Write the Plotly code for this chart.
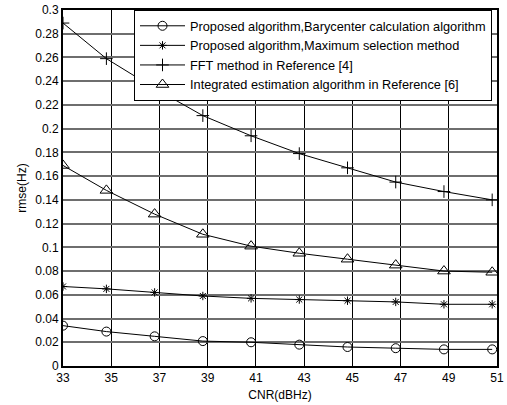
import plotly.graph_objects as go

cnr = [33, 34.8, 36.8, 38.8, 40.8, 42.8, 44.8, 46.8, 48.8, 50.8]
bary = [0.034, 0.029, 0.025, 0.021, 0.020, 0.018, 0.016, 0.015, 0.014, 0.014]
maxsel = [0.067, 0.065, 0.062, 0.059, 0.057, 0.056, 0.055, 0.054, 0.052, 0.052]
fft = [0.289, 0.259, 0.234, 0.211, 0.194, 0.179, 0.167, 0.155, 0.147, 0.140]
integ = [0.169, 0.148, 0.128, 0.111, 0.101, 0.095, 0.090, 0.085, 0.080, 0.079]

names = [
    "Proposed algorithm,Barycenter calculation algorithm",
    "Proposed algorithm,Maximum selection method",
    "FFT method in Reference [4]",
    "Integrated estimation algorithm in Reference [6]",
]
xticks = [33, 35, 37, 39, 41, 43, 45, 47, 49, 51]
yticks = [0, 0.02, 0.04, 0.06, 0.08, 0.1, 0.12, 0.14, 0.16, 0.18, 0.2, 0.22, 0.24, 0.26, 0.28, 0.3]
ytick_text = ["0", "0.02", "0.04", "0.06", "0.08", "0.1", "0.12", "0.14", "0.16", "0.18", "0.2", "0.22", "0.24", "0.26", "0.28", "0.3"]

series = [
    (bary, "circle-open", 9),
    (maxsel, "asterisk-open", 7),
    (fft, "cross-thin-open", 9),
    (integ, "triangle-up-open", 11),
]

fig = go.Figure()
for (vals, sym, sz), nm in zip(series, names):
    fig.add_trace(go.Scatter(
        x=cnr, y=vals, name=nm, mode="lines+markers",
        line=dict(color="black", width=1),
        marker=dict(symbol=sym, size=sz, color="black", line=dict(color="black", width=1)),
    ))

font = "Liberation Sans, Arial, sans-serif"
fig.update_layout(
    width=507, height=405,
    margin=dict(l=63, r=10, t=10, b=39, autoexpand=False),
    paper_bgcolor="white", plot_bgcolor="white",
    font=dict(family=font, size=12, color="black"),
    showlegend=True,
    legend=dict(
        x=0.1636, y=1, xanchor="left", yanchor="top",
        bgcolor="white", bordercolor="black", borderwidth=1,
        font=dict(family=font, size=12.75, color="black"),
        itemwidth=45, tracegroupgap=0,
    ),
    xaxis=dict(
        range=[33, 51], tickmode="array", tickvals=xticks,
        showgrid=True, gridcolor="black", gridwidth=1,
        showline=True, linecolor="black", linewidth=2, mirror=True,
        ticks="", zeroline=False,
        title=dict(text="CNR(dBHz)", font=dict(family=font, size=12), standoff=6),
    ),
    yaxis=dict(
        range=[0, 0.3], tickmode="array", tickvals=yticks, ticktext=ytick_text,
        showgrid=True, gridcolor="#6e6e6e", gridwidth=2,
        showline=True, linecolor="black", linewidth=2, mirror=True,
        ticks="", zeroline=False,
        title=dict(text="rmse(Hz)", font=dict(family=font, size=12), standoff=6),
    ),
)

fig.write_html("out.html")
